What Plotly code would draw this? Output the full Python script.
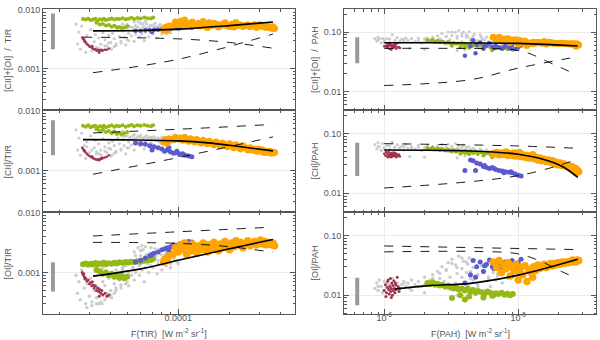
import plotly.graph_objects as go

# ---------------- DATA ----------------
# Left column: x = F(TIR) in units of 1e-5 W m^-2 sr^-1 ; ratios [CII]/TIR, [OI]/TIR in units of 1e-3
gray_L_x   = [2.5,2.55,2.6,2.65,2.7,2.8,2.85,2.9,3.0,3.05,3.1,3.2,3.25,3.3,3.4,3.5,3.55,3.6,3.7,3.8,3.9,4.0,4.05,4.1,4.2,4.3,4.4,4.5,4.6,4.7,4.8,4.9,5.0,5.1,5.2,5.3,5.4,5.5,5.6,5.7,5.8,5.9,6.0,6.1,6.2,6.3,6.4,6.5,6.6,6.8,6.9,7.0,7.2,7.4,7.6,7.8,8.0,8.2,8.4,8.6,8.8,9.0,9.3,9.6,9.9,4.3,4.7,5.0,3.6,3.3,
              4.6,4.8,5.0,5.2,5.4,5.6,5.8,6.0,6.2,6.4,6.6,6.8,7.0,7.3,7.6,7.9,8.2,8.5,8.8,9.1,9.4,9.7,10.0,5.1,5.5,5.9,6.3,6.7,7.1,7.5,8.0,8.5,9.0,3.4,3.7,4.0,4.3,4.6,4.9,3.1,3.5,3.9,4.2,2.9,3.3,6.1,6.9,7.7,8.6,9.5]
gray_L_cii = [4.8,2.2,3.5,1.8,4.2,2.6,1.6,3.0,2.0,3.8,1.7,2.4,3.2,1.9,2.8,2.2,1.7,3.4,2.5,2.0,2.9,2.3,1.8,3.1,2.6,2.1,3.5,2.8,2.3,3.3,2.6,3.8,2.4,3.0,3.6,2.7,3.3,4.0,2.9,3.5,3.7,3.1,3.9,2.8,3.4,3.6,3.0,3.8,3.3,3.6,2.9,3.4,3.7,3.2,3.5,3.3,3.6,3.2,3.4,3.1,3.5,3.3,3.2,3.4,3.1,4.2,4.5,4.3,4.6,5.0,
              3.9,3.7,3.8,3.6,3.8,3.5,3.7,3.6,3.4,3.7,3.5,3.3,3.6,3.4,3.5,3.3,3.4,3.2,3.35,3.2,3.3,3.15,3.2,2.4,2.2,2.6,2.3,2.5,2.7,2.4,2.8,2.6,2.9,1.9,2.1,1.75,2.0,2.2,1.9,2.2,1.85,2.35,1.95,2.5,2.05,3.0,2.8,3.0,3.1,3.0]
gray_L_oi  = [0.9,0.45,0.7,0.35,1.1,0.55,0.3,0.65,0.4,0.8,0.32,0.5,0.6,0.38,0.55,0.42,0.3,0.7,0.6,0.45,0.8,0.5,0.38,0.9,0.65,0.55,1.0,0.75,0.62,1.1,0.85,1.3,0.7,1.0,1.5,0.9,1.2,2.2,1.0,1.6,2.6,1.3,1.9,1.1,2.4,1.5,1.2,2.0,1.4,1.7,1.3,2.1,1.6,1.9,1.4,2.3,1.7,1.5,2.0,1.6,1.8,1.4,1.9,1.6,1.5,1.1,1.2,1.4,1.2,1.2,
              1.0,1.3,0.9,1.6,1.2,1.9,1.4,2.3,1.7,2.7,1.5,2.1,1.8,2.5,1.6,2.0,1.8,2.2,1.5,1.9,1.7,1.6,1.4,0.6,0.75,0.9,0.7,1.0,1.2,0.95,1.1,1.3,1.2,0.3,0.35,0.42,0.5,0.55,0.65,0.28,0.32,0.4,0.45,0.26,0.3,2.8,2.6,2.4,2.2,2.0]

red_L_x   = [2.72,2.75,2.78,2.8,2.85,2.9,2.95,3.0,3.05,3.1,3.15,3.2,3.25,3.3,3.35,3.4,3.45,3.5,3.55,3.6,3.7,3.8,3.9,2.82,3.12,3.42]
red_L_cii = [2.4,2.3,2.2,2.1,2.0,1.9,1.8,1.75,1.7,1.65,1.6,1.58,1.55,1.52,1.55,1.5,1.55,1.6,1.58,1.62,1.65,1.7,1.8,2.15,1.72,1.48]
red_L_oi  = [1.0,0.92,0.95,0.85,0.8,0.72,0.75,0.65,0.68,0.6,0.62,0.55,0.6,0.5,0.55,0.48,0.52,0.45,0.5,0.42,0.45,0.4,0.42,0.78,0.7,0.4]

green_L_x   = [2.75,2.85,2.95,3.05,3.15,3.25,3.35,3.45,3.55,3.65,3.75,3.9,4.05,4.2,4.35,4.5,4.7,4.9,5.1,5.3,5.5,5.75,6.0,6.3,6.6,6.9,7.1,3.3,3.45,3.6,3.75,3.9,4.05,4.2,4.35,4.5,4.65,4.8,5.0]
green_L_cii = [5.6,5.4,5.7,5.3,5.5,5.6,5.2,5.5,5.4,5.6,5.3,5.5,5.7,5.4,5.6,5.5,5.7,5.4,5.6,5.8,5.5,5.7,5.6,5.8,5.6,5.5,5.7,4.9,4.6,4.8,4.4,4.6,4.2,4.5,4.1,4.3,4.0,4.2,4.4]
green_L_oi  = [1.38,1.42,1.35,1.4,1.36,1.44,1.38,1.42,1.4,1.45,1.38,1.43,1.4,1.46,1.42,1.48,1.45,1.5,1.47,1.52,1.5,1.55,1.52,1.58,1.6,1.62,1.7,1.1,1.05,0.95,1.0,0.9,0.95,0.85,0.9,0.82,0.88,0.8,0.85]

blue_L_x   = [5.6,6.0,6.4,6.8,7.2,7.6,8.0,8.3,8.6,9.0,9.4,9.8,10.2,10.6,11.0,11.5,12.0,7.0,8.8,10.0]
blue_L_cii = [2.9,2.8,2.75,2.6,2.5,2.4,2.3,2.1,2.2,2.05,1.95,2.1,1.85,1.9,1.8,1.75,1.7,2.2,2.4,1.95]
blue_L_oi  = [1.5,1.6,1.75,1.9,2.1,2.2,2.4,2.5,2.6,2.7,2.9,2.8,3.0,3.1,3.2,3.3,3.25,2.0,2.3,2.9]

orange_L_x   = [8.2,8.4,8.6,8.8,9.3,9.6,10.0,10.3,10.6,10.9,11.2,11.5,11.8,12.1,12.5,12.8,13.2,13.6,14.0,14.4,14.8,15.2,15.7,16.2,16.7,17.2,17.7,18.2,18.8,19.4,20.0,20.6,21.2,21.8,22.5,23.2,24.0,24.8,25.6,26.4,27.2,28.0,28.8,29.6,30.4,31.2,32.0,32.8,33.6,34.4,35.2,36.0,36.8]
orange_L_cii = [3.0,3.3,2.9,3.4,3.3,3.6,3.4,3.5,3.2,3.6,3.3,3.1,3.4,3.2,3.0,3.3,3.1,2.9,3.2,3.0,2.8,3.1,2.9,2.7,3.0,2.8,2.6,2.9,2.7,2.5,2.8,2.6,2.4,2.7,2.5,2.3,2.6,2.4,2.2,2.4,2.2,2.3,2.1,2.3,2.1,2.2,2.0,2.1,2.0,2.1,1.95,2.05,2.0]
orange_L_oi  = [1.5,1.7,1.6,1.9,2.0,2.6,2.2,2.9,2.4,3.1,2.0,2.7,2.3,3.0,2.5,2.1,2.8,2.4,3.1,2.6,2.2,2.9,2.5,3.2,2.7,2.3,3.0,2.6,3.3,2.8,2.4,3.1,2.7,3.4,2.9,3.2,2.6,3.0,3.4,2.8,3.1,3.3,2.9,3.2,3.5,3.0,3.3,2.9,3.2,3.0,2.9,3.1,2.8]

# Right column: x = F(PAH) in units of 1e-6 W m^-2 sr^-1 ; ratios [CII]/PAH, [OI]/PAH in units of 1e-2
gray_R_x   = [0.85,0.88,0.9,0.92,0.95,0.97,1.0,1.05,1.1,1.15,1.2,1.25,1.3,1.35,1.4,1.45,1.5,1.55,1.6,1.7,1.8,1.9,2.0,2.1,2.2,2.3,2.4,2.5,2.6,2.7,2.8,2.9,3.0,3.1,3.2,3.3,3.4,3.5,3.6,3.7,3.8,3.9,4.0,4.1,4.2,4.3,4.4,4.5,4.6,4.8,5.0,5.2,5.4,5.6,5.8,6.0,6.2,6.5,6.8,7.0,7.3,7.6,8.0,8.4,8.8,9.2,3.5,4.0,2.0,
              0.9,1.0,1.1,1.2,1.3,1.4,1.6,1.8,2.0,2.3,2.6,2.9,3.2,3.5,3.8,4.1,4.4,4.7,5.0,5.3,5.6,6.0,6.5,7.0,3.0,3.4,3.8,4.2,4.6,5.0]
gray_R_cii = [6.5,5.5,7.0,6.0,5.2,6.8,5.8,6.3,5.4,7.2,5.9,6.5,5.5,6.1,5.3,6.6,5.7,4.1,6.0,5.5,6.3,5.2,5.8,6.4,5.6,6.0,5.4,6.2,5.7,6.5,5.3,5.9,6.6,5.5,6.1,5.2,6.8,5.6,6.2,5.0,5.8,6.4,5.3,5.9,5.1,6.0,5.4,4.9,5.6,5.2,4.8,5.5,5.0,4.7,5.3,4.9,4.6,5.1,4.7,4.5,4.9,4.4,4.7,4.3,4.6,4.2,3.9,4.2,4.0,
              6.0,5.6,6.2,5.3,5.8,6.0,5.5,5.9,5.4,5.7,5.5,5.8,5.4,5.6,5.3,5.5,5.2,5.4,5.0,5.2,4.9,5.0,4.7,4.6,5.0,4.8,4.9,4.6,4.7,4.5]
gray_R_oi  = [1.3,1.6,1.2,1.8,1.4,1.1,1.7,1.5,1.2,1.9,1.4,1.6,1.3,1.5,1.7,1.4,1.6,1.3,1.8,1.5,1.7,1.4,2.0,1.6,1.8,2.2,1.5,2.5,1.9,3.0,1.7,2.6,3.5,2.0,4.0,1.4,3.2,2.3,4.5,1.3,2.8,3.7,1.2,2.4,3.3,4.2,1.9,1.1,2.9,2.1,1.5,3.6,2.6,1.2,3.0,2.0,1.4,2.7,1.8,2.3,3.1,1.6,2.5,1.9,2.8,2.2,1.0,0.85,1.1,
              1.4,1.2,1.5,1.1,1.3,1.6,1.2,1.4,1.5,1.9,2.3,2.7,3.4,2.9,4.2,3.6,2.5,3.9,2.2,3.1,2.6,1.9,2.4,2.1,1.3,1.6,2.0,1.5,1.8,1.4]

red_R_x   = [1.00,1.02,1.04,1.05,1.06,1.08,1.09,1.10,1.11,1.12,1.13,1.14,1.15,1.16,1.17,1.18,1.19,1.20,1.22,1.23,1.25,1.27,1.29,1.03,1.07,1.13,1.21,1.31]
red_R_cii = [4.6,4.3,4.8,4.1,4.5,4.9,4.2,4.6,4.4,4.0,4.7,4.3,4.5,4.1,4.8,4.4,4.2,4.6,4.3,4.0,4.5,4.2,4.4,4.9,4.0,4.2,4.7,4.1]
red_R_oi  = [1.2,1.5,1.1,1.35,1.7,1.25,1.05,1.4,1.9,1.15,1.3,1.6,1.0,1.45,1.2,1.75,1.3,1.1,1.5,1.25,2.0,1.4,1.15,0.95,1.8,0.92,1.6,1.3]

green_R_x   = [2.1,2.2,2.3,2.4,2.5,2.6,2.7,2.85,3.0,3.15,3.3,3.45,3.6,3.8,4.0,4.2,4.4,4.6,4.8,5.0,5.3,5.6,5.9,6.2,6.5,6.8,7.1,7.5,7.9,8.3,8.7,9.1,3.7,4.3,5.5,6.4,3.2,4.0]
green_R_cii = [5.7,5.5,5.8,5.4,5.6,5.3,5.5,5.2,5.4,5.1,5.3,5.0,5.2,4.9,5.1,4.8,5.0,4.7,4.9,4.6,4.8,4.5,4.7,4.4,4.6,4.3,4.5,4.2,4.4,4.1,4.3,4.0,4.6,4.5,4.3,4.0,5.0,4.7]
green_R_oi  = [1.6,1.55,1.65,1.5,1.55,1.45,1.5,1.4,1.45,1.35,1.3,1.38,1.25,1.3,1.2,1.28,1.15,1.22,1.1,1.18,1.12,1.05,1.15,1.1,1.0,1.08,1.05,1.1,1.02,1.06,1.0,1.05,1.0,0.95,0.92,0.98,0.9,0.85]

blue_R_x   = [4.4,4.6,4.9,5.2,5.5,5.8,6.1,6.4,6.8,7.2,7.6,8.0,8.5,9.0,9.5,10.0,10.5,4.8,5.6,6.6,7.8,8.8,4.0]
blue_R_cii = [3.6,3.5,3.2,3.1,2.8,2.7,2.6,2.7,2.5,2.4,2.35,2.3,2.25,2.2,2.1,2.0,1.95,2.4,2.9,2.6,2.2,2.3,2.4]
blue_R_oi  = [2.2,3.8,3.0,3.6,2.5,3.3,3.9,3.0,3.5,3.2,2.9,3.6,3.3,3.8,3.1,3.5,4.0,2.0,3.1,2.8,3.4,3.0,1.6]

orange_R_x   = [6.5,6.9,7.2,7.5,7.8,8.1,8.4,8.7,9.0,9.3,9.6,10.0,10.4,10.8,11.2,11.6,12.0,12.5,13.0,13.5,14.0,14.5,15.0,15.6,16.2,16.8,17.4,18.0,18.6,19.2,19.8,20.5,21.2,22.0,22.8,23.6,24.4,25.2,26.0,26.8,27.6,28.2,27.0,25.5,12.8,10.2]
orange_R_cii = [4.6,4.8,4.4,4.7,4.5,4.9,4.3,4.6,4.4,4.7,4.2,4.5,4.1,4.4,4.0,4.3,3.9,4.2,3.8,4.0,3.6,3.9,3.5,3.7,3.4,3.6,3.3,3.5,3.1,3.3,3.0,3.2,2.9,3.1,2.8,2.9,2.6,2.8,2.5,2.6,2.4,2.3,2.2,2.45,4.4,4.8]
orange_R_oi  = [3.6,2.9,3.8,2.4,3.2,2.8,3.5,2.1,3.0,2.6,3.3,1.8,2.9,2.2,3.1,1.7,2.7,2.4,3.0,2.6,3.2,2.8,3.0,3.3,2.9,3.2,3.4,3.1,3.4,3.2,3.5,3.3,3.6,3.4,3.6,3.5,3.7,3.6,3.8,3.7,3.9,3.8,3.6,3.9,2.0,2.5]

# Fit (solid) and model (dashed) curves
fitL_top_x = [3.15, 6, 10, 20, 36];        fitL_top_y = [4.4, 4.45, 4.7, 5.4, 6.2]
fitL_mid_x = [2.75, 5, 10, 15, 20, 36];    fitL_mid_y = [3.29, 3.25, 3.13, 2.9, 2.64, 2.13]
fitL_bot_x = [3.15, 6, 10, 20, 36];        fitL_bot_y = [0.87, 1.15, 1.6, 2.5, 3.56]
dashL_top_a_x = [2.75, 10, 20, 36];        dashL_top_a_y = [3.44, 3.22, 2.8, 2.24]
dashL_top_b_x = [3.15, 10, 36];            dashL_top_b_y = [0.865, 1.46, 3.89]
dashL_mid_a_x = [3.15, 10, 36];            dashL_mid_a_y = [4.25, 4.9, 5.9]
dashL_mid_b_x = [3.15, 10, 36];            dashL_mid_b_y = [0.868, 1.65, 3.65]
dashL_bot_a_x = [3.15, 10, 36];            dashL_bot_a_y = [4.08, 4.8, 5.74]
dashL_bot_b_x = [3.15, 10, 20, 36];        dashL_bot_b_y = [3.19, 3.07, 2.7, 2.18]

fitR_top_x = [1.0, 10, 27.8];              fitR_top_y = [6.63, 6.48, 5.84]
fitR_mid_x = [1.0, 4.4, 10, 16, 22, 27.8]; fitR_mid_y = [5.3, 5.1, 4.5, 3.6, 2.7, 1.84]
fitR_bot_x = [1.2, 2.2, 4.4, 10, 27.8];    fitR_bot_y = [1.27, 1.45, 1.58, 2.17, 4.0]
dashR_top_a_x = [1.0, 5.0, 9.0, 12.0, 16.0, 21.0, 27.5]; dashR_top_a_y = [5.35, 5.3, 5.1, 4.4, 3.3, 2.5, 1.9]
dashR_top_b_x = [1.0, 4.4, 10, 27.8];      dashR_top_b_y = [1.26, 1.58, 2.48, 3.87]
dashR_mid_a_x = [1.0, 10, 27.8];           dashR_mid_a_y = [6.75, 6.18, 5.64]
dashR_mid_b_x = [1.0, 10, 27.8];           dashR_mid_b_y = [1.226, 1.97, 3.7]
dashR_bot_a_x = [1.0, 27.8];               dashR_bot_a_y = [6.67, 5.8]
dashR_bot_b_x = [1.0, 9.0, 12.0, 16.0, 21.0, 27.5]; dashR_bot_b_y = [5.31, 5.1, 4.4, 3.4, 2.5, 1.91]

# Typical uncertainty bars (gray)
errbar_L_x = 1.83   # 1e-5
errbar_L = {"top": [2.15, 8.6], "mid": [1.8, 6.9], "bot": [0.48, 1.48]}   # 1e-3
errbar_R_x = 0.629  # 1e-6
errbar_R = {"top": [3.0, 8.2], "mid": [1.95, 7.0], "bot": [0.68, 1.97]}   # 1e-2

# ---------------- FIGURE ----------------
C_GRAY, C_RED, C_GREEN, C_BLUE, C_ORANGE = "#cdcdcd", "#a3324f", "#94b816", "#5b5bd0", "#ffa500"
AX = "#555555"
FONT = "Liberation Sans, Arial, sans-serif"

def sc(v, f):
    return [a * f for a in v]

def add_sum(a, b):
    return [x + y for x, y in zip(a, b)]

groups_L = [
    (gray_L_x, gray_L_cii, gray_L_oi, C_GRAY, (3.2, 3.2, 3.5)),
    (red_L_x, red_L_cii, red_L_oi, C_RED, (2.5, 2.5, 3)),
    (green_L_x, green_L_cii, green_L_oi, C_GREEN, (4, 4, 6)),
    (blue_L_x, blue_L_cii, blue_L_oi, C_BLUE, (4.5, 5, 5)),
    (orange_L_x, orange_L_cii, orange_L_oi, C_ORANGE, (7, 7, 7.5)),
]
groups_R = [
    (gray_R_x, gray_R_cii, gray_R_oi, C_GRAY, (3.2, 3.2, 3.5)),
    (red_R_x, red_R_cii, red_R_oi, C_RED, (2.5, 2.5, 3)),
    (green_R_x, green_R_cii, green_R_oi, C_GREEN, (4, 4, 6)),
    (blue_R_x, blue_R_cii, blue_R_oi, C_BLUE, (4.5, 5, 5)),
    (orange_R_x, orange_R_cii, orange_R_oi, C_ORANGE, (7, 7.5, 7.5)),
]

fig = go.Figure()

def axid(r, c):
    n = r * 2 + c + 1
    return ("x" if n == 1 else f"x{n}"), ("y" if n == 1 else f"y{n}")

def add_points(groups, c, xf, yf):
    for gx, gcii, goi, col, sizes in groups:
        xs = sc(gx, xf)
        rows = [add_sum(gcii, goi), gcii, goi]
        for r in range(3):
            xa, ya = axid(r, c)
            fig.add_trace(go.Scatter(x=xs, y=sc(rows[r], yf), mode="markers", xaxis=xa, yaxis=ya,
                                     marker=dict(color=col, size=sizes[r], line=dict(width=0)),
                                     hoverinfo="skip"))

add_points(groups_L, 0, 1e-5, 1e-3)
add_points(groups_R, 1, 1e-6, 1e-2)

def add_line(r, c, xs, ys, xf, yf, dash):
    xa, ya = axid(r, c)
    fig.add_trace(go.Scatter(x=sc(xs, xf), y=sc(ys, yf), mode="lines", xaxis=xa, yaxis=ya,
                             line=dict(color="black", width=1.6 if dash == "solid" else 0.9,
                                       dash=dash, shape="spline"),
                             hoverinfo="skip"))

lines_L = [
    (0, fitL_top_x, fitL_top_y, "solid"), (0, dashL_top_a_x, dashL_top_a_y, "dash"), (0, dashL_top_b_x, dashL_top_b_y, "dash"),
    (1, fitL_mid_x, fitL_mid_y, "solid"), (1, dashL_mid_a_x, dashL_mid_a_y, "dash"), (1, dashL_mid_b_x, dashL_mid_b_y, "dash"),
    (2, fitL_bot_x, fitL_bot_y, "solid"), (2, dashL_bot_a_x, dashL_bot_a_y, "dash"), (2, dashL_bot_b_x, dashL_bot_b_y, "dash"),
]
lines_R = [
    (0, fitR_top_x, fitR_top_y, "solid"), (0, dashR_top_a_x, dashR_top_a_y, "dash"), (0, dashR_top_b_x, dashR_top_b_y, "dash"),
    (1, fitR_mid_x, fitR_mid_y, "solid"), (1, dashR_mid_a_x, dashR_mid_a_y, "dash"), (1, dashR_mid_b_x, dashR_mid_b_y, "dash"),
    (2, fitR_bot_x, fitR_bot_y, "solid"), (2, dashR_bot_a_x, dashR_bot_a_y, "dash"), (2, dashR_bot_b_x, dashR_bot_b_y, "dash"),
]
for r, xs, ys, d in lines_L:
    add_line(r, 0, xs, ys, 1e-5, 1e-3, d)
for r, xs, ys, d in lines_R:
    add_line(r, 1, xs, ys, 1e-6, 1e-2, d)

for r, key in enumerate(["top", "mid", "bot"]):
    for c, (bx, bars, xf, yf) in enumerate([(errbar_L_x, errbar_L, 1e-5, 1e-3), (errbar_R_x, errbar_R, 1e-6, 1e-2)]):
        xa, ya = axid(r, c)
        fig.add_trace(go.Scatter(x=[bx * xf, bx * xf], y=sc(bars[key], yf), mode="lines", xaxis=xa, yaxis=ya,
                                 line=dict(color="#9a9a9a", width=4), hoverinfo="skip"))

# ---------------- AXES ----------------
W, H = 600, 340
xdom = [[43 / W, 295 / W], [344 / W, 596 / W]]
rows_px = [(4.5, 107), (107, 210.5), (210.5, 314)]
ydom = [[1 - b / H, 1 - t / H] for t, b in rows_px]
xrng = [[-4.796, -3.314], [-6.30, -4.42]]
yrng = [[-3.7, -1.995], [-2.32, -0.615]]

def decades_minor(lo, hi):
    out = []
    for e in range(lo, hi):
        for m in range(2, 10):
            out.append(m * 10.0 ** e)
    return out

x_major = [dict(vals=[1e-4], text=["0.0001"]), dict(vals=[1e-6, 1e-5], text=["10<sup>-6</sup>", "10<sup>-5</sup>"])]
x_minor = [decades_minor(-5, -3), decades_minor(-7, -4)]
y_major = [dict(vals=[1e-3, 1e-2], text=["0.001", "0.010"]), dict(vals=[1e-2, 1e-1], text=["0.01", "0.10"])]
y_minor = [decades_minor(-4, -2), decades_minor(-3, 0)]

layout = dict(width=W, height=H, margin=dict(l=0, r=0, t=0, b=0), showlegend=False,
              paper_bgcolor="white", plot_bgcolor="white",
              font=dict(family=FONT, size=9, color=AX))
for r in range(3):
    for c in range(2):
        n = r * 2 + c + 1
        xk = "xaxis" if n == 1 else f"xaxis{n}"
        yk = "yaxis" if n == 1 else f"yaxis{n}"
        xa, ya = axid(r, c)
        layout[xk] = dict(type="log", domain=xdom[c], range=xrng[c], anchor=ya,
                          tickmode="array", tickvals=x_major[c]["vals"], ticktext=x_major[c]["text"],
                          showticklabels=(r == 2), ticks="inside", ticklen=5, tickcolor=AX,
                          ticklabelstandoff=-5,
                          showline=True, linecolor=AX, linewidth=1, mirror="allticks",
                          showgrid=True, gridcolor="#ececec", gridwidth=1, zeroline=False,
                          tickfont=dict(size=9, color=AX),
                          minor=dict(tickmode="array", tickvals=x_minor[c], ticks="inside",
                                     ticklen=2.5, tickcolor=AX, showgrid=False))
        layout[yk] = dict(type="log", domain=ydom[r], range=yrng[c], anchor=xa,
                          tickmode="array", tickvals=y_major[c]["vals"], ticktext=y_major[c]["text"],
                          ticks="inside", ticklen=5, tickcolor=AX,
                          showline=True, linecolor=AX, linewidth=1, mirror="allticks",
                          showgrid=True, gridcolor="#ececec", gridwidth=1, zeroline=False,
                          tickfont=dict(size=9, color=AX),
                          minor=dict(tickmode="array", tickvals=y_minor[c], ticks="inside",
                                     ticklen=2.5, tickcolor=AX, showgrid=False))
fig.update_layout(**layout)

ytitles = [["[CII]+[OI]  /  TIR", "[CII]+[OI]  /  PAH"],
           ["[CII]/TIR", "[CII]/PAH"],
           ["[OI]/TIR", "[OI]/PAH"]]
ytitle_x = [8 / W, 315 / W]
for r in range(3):
    yc = 1 - (rows_px[r][0] + rows_px[r][1]) / 2 / H
    for c in range(2):
        fig.add_annotation(text=ytitles[r][c], x=ytitle_x[c], y=yc, xref="paper", yref="paper",
                           textangle=-90, showarrow=False, font=dict(size=9, color=AX, family=FONT),
                           xanchor="center", yanchor="middle")
xtitles = ["F(TIR)  [W m<sup>-2</sup> sr<sup>-1</sup>]", "F(PAH)  [W m<sup>-2</sup> sr<sup>-1</sup>]"]
for c in range(2):
    fig.add_annotation(text=xtitles[c], x=(xdom[c][0] + xdom[c][1]) / 2, y=1 - 333 / H, xref="paper", yref="paper",
                       showarrow=False, font=dict(size=9, color=AX, family=FONT),
                       xanchor="center", yanchor="middle")

fig.write_html("out.html", config={"displayModeBar": False},
               post_script="document.body.style.margin='0';")
